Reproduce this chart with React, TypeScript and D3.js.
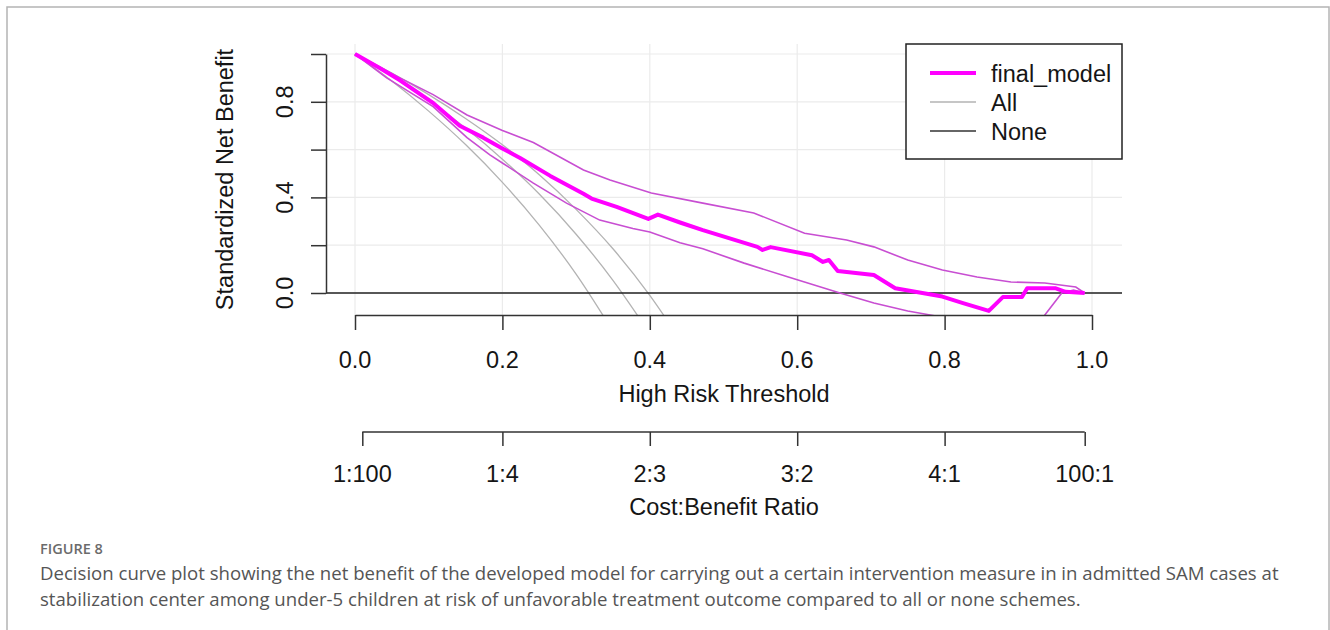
import * as d3 from 'd3';
import React, { useRef, useEffect } from 'react';

// decision curve values: [threshold, standardized net benefit]
const modelCurve: [number, number][] = [
  [0, 1.0], [0.034, 0.94], [0.061, 0.89], [0.106, 0.795], [0.142, 0.7], [0.174, 0.65],
  [0.2, 0.605], [0.224, 0.565], [0.265, 0.49], [0.31, 0.415], [0.321, 0.395], [0.355, 0.36],
  [0.398, 0.31], [0.411, 0.328], [0.441, 0.295], [0.472, 0.263], [0.546, 0.193], [0.553, 0.18],
  [0.564, 0.192], [0.62, 0.158], [0.635, 0.13], [0.643, 0.138], [0.655, 0.092], [0.704, 0.075],
  [0.733, 0.02], [0.797, -0.015], [0.825, -0.042], [0.86, -0.075], [0.879, -0.017], [0.905, -0.017],
  [0.912, 0.02], [0.95, 0.02], [0.964, 0.005], [0.99, 0.0],
];
const modelUpper: [number, number][] = [
  [0, 1.0], [0.061, 0.9], [0.106, 0.83], [0.152, 0.745], [0.2, 0.68], [0.242, 0.63],
  [0.31, 0.515], [0.346, 0.473], [0.402, 0.418], [0.472, 0.376], [0.541, 0.335], [0.61, 0.25],
  [0.667, 0.222], [0.704, 0.193], [0.75, 0.138], [0.797, 0.096], [0.844, 0.067], [0.89, 0.046],
  [0.936, 0.042], [0.978, 0.025], [0.99, 0.0],
];
const modelLower: [number, number][] = [
  [0, 1.0], [0.043, 0.9], [0.106, 0.78], [0.152, 0.65], [0.183, 0.578], [0.2, 0.544],
  [0.242, 0.46], [0.287, 0.376], [0.332, 0.305], [0.377, 0.27], [0.4, 0.255], [0.441, 0.21],
  [0.472, 0.185], [0.528, 0.125], [0.588, 0.067], [0.658, 0.0], [0.704, -0.042], [0.75, -0.075],
  [0.786, -0.095], [0.85, -0.2], [0.92, -0.16], [0.936, -0.092], [0.959, 0.0], [0.975, 0.012],
  [0.99, 0.0],
];
// "All" strategy curve and its two bounds
const allHigh: [number, number][] = [
  [0, 1.0], [0.05, 0.92], [0.1, 0.83], [0.15, 0.73], [0.2, 0.62], [0.25, 0.495],
  [0.3, 0.35], [0.35, 0.185], [0.4, -0.01], [0.44, -0.19],
];
const allMid: [number, number][] = [
  [0, 1.0], [0.05, 0.907], [0.1, 0.805], [0.15, 0.69], [0.2, 0.56], [0.25, 0.414],
  [0.3, 0.246], [0.35, 0.053], [0.4, -0.17],
];
const allLow: [number, number][] = [
  [0, 1.0], [0.05, 0.887], [0.1, 0.761], [0.15, 0.621], [0.2, 0.463], [0.25, 0.284],
  [0.3, 0.079], [0.35, -0.16],
];

const xTicks = [0, 0.2, 0.4, 0.6, 0.8, 1.0];
const yTicks = [0, 0.2, 0.4, 0.6, 0.8, 1.0];
const yLabelled = [0, 0.4, 0.8];
const costTicks = [1 / 101, 0.2, 0.4, 0.6, 0.8, 100 / 101];
const costLabels = ['1:100', '1:4', '2:3', '3:2', '4:1', '100:1'];
const legendNames = ['final_model', 'All', 'None'];

const captionTitle = 'FIGURE 8';
const captionLines = [
  'Decision curve plot showing the net benefit of the developed model for carrying out a certain intervention measure in in admitted SAM cases at',
  'stabilization center among under-5 children at risk of unfavorable treatment outcome compared to all or none schemes.',
];

function DecisionCurve({ width, height }: { width: number; height: number }) {
  const ref = useRef<SVGSVGElement>(null);

  useEffect(() => {
    draw();
  }, []);

  const draw = () => {
    const svg = d3.select(ref.current);
    svg.selectAll('*').remove();

    const font = "'Liberation Sans', Arial, sans-serif";
    const fs = 23.5;
    const ink = '#151515';
    const axisCol = '#333';

    // plot region (R device coords)
    const plot = { left: 326, right: 1122, top: 44, bottom: 315 };

    const x = d3.scaleLinear().domain([0, 1]).range([355, 1092]);
    const y = d3.scaleLinear().domain([0, 1]).range([293, 54]);

    // outer frame of the figure
    svg.append('rect')
      .attr('x', 7).attr('y', 7)
      .attr('width', 1322).attr('height', 700)
      .attr('fill', 'none')
      .attr('stroke', '#b4b4b4')
      .attr('stroke-width', 1.5);

    svg.append('defs').append('clipPath').attr('id', 'plotclip')
      .append('rect')
      .attr('x', plot.left).attr('y', plot.top)
      .attr('width', plot.right - plot.left).attr('height', plot.bottom - plot.top);

    // grid
    const grid = svg.append('g');
    grid.selectAll('.vg').data(xTicks).enter().append('line')
      .attr('x1', d => x(d)).attr('x2', d => x(d))
      .attr('y1', plot.top).attr('y2', plot.bottom)
      .attr('stroke', '#ebebeb').attr('stroke-width', 1.2);
    grid.selectAll('.hg').data(yTicks).enter().append('line')
      .attr('x1', plot.left).attr('x2', plot.right)
      .attr('y1', d => y(d)).attr('y2', d => y(d))
      .attr('stroke', '#ebebeb').attr('stroke-width', 1.2);

    const g = svg.append('g').attr('clip-path', 'url(#plotclip)');
    const line = d3.line<[number, number]>()
      .x(d => x(d[0]))
      .y(d => y(d[1]));
    const smooth = d3.line<[number, number]>()
      .curve(d3.curveMonotoneX)
      .x(d => x(d[0]))
      .y(d => y(d[1]));

    // All
    [allLow, allMid, allHigh].forEach(s => {
      g.append('path').datum(s)
        .attr('d', smooth)
        .attr('fill', 'none')
        .attr('stroke', '#b3b3b3')
        .attr('stroke-width', 1.3);
    });

    // None
    g.append('line')
      .attr('x1', plot.left).attr('x2', plot.right)
      .attr('y1', y(0)).attr('y2', y(0))
      .attr('stroke', '#222').attr('stroke-width', 1.4);

    // model confidence bounds
    [modelUpper, modelLower].forEach(s => {
      g.append('path').datum(s)
        .attr('d', line)
        .attr('fill', 'none')
        .attr('stroke', '#c84ed2')
        .attr('stroke-width', 1.6);
    });

    g.append('path').datum(modelCurve)
      .attr('d', line)
      .attr('fill', 'none')
      .attr('stroke', '#ff00ff')
      .attr('stroke-width', 4)
      .attr('stroke-linejoin', 'round');

    // y axis
    const yAxis = svg.append('g')
      .attr('transform', `translate(${plot.left},0)`)
      .call(d3.axisLeft(y).tickValues(yTicks).tickSize(15).tickSizeOuter(0).tickFormat(() => ''));
    yAxis.selectAll('path, line').attr('stroke', axisCol).attr('stroke-width', 1.5);
    yAxis.selectAll('text').remove();
    svg.selectAll('.ylab').data(yLabelled).enter().append('text')
      .attr('transform', d => `translate(293,${y(d)}) rotate(-90)`)
      .attr('text-anchor', 'middle')
      .style('font-family', font).style('font-size', fs + 'px').style('fill', ink)
      .text(d => d.toFixed(1));
    svg.append('text')
      .attr('transform', `translate(233,${(plot.top + plot.bottom) / 2}) rotate(-90)`)
      .attr('text-anchor', 'middle')
      .style('font-family', font).style('font-size', fs + 'px').style('fill', ink)
      .text('Standardized Net Benefit');

    // x axis (threshold)
    const xAxis = svg.append('g')
      .attr('transform', `translate(0,${plot.bottom})`)
      .call(d3.axisBottom(x).tickValues(xTicks).tickSize(15).tickSizeOuter(0).tickFormat(() => ''));
    xAxis.selectAll('path, line').attr('stroke', axisCol).attr('stroke-width', 1.5);
    xAxis.selectAll('text').remove();
    svg.selectAll('.xlab').data(xTicks).enter().append('text')
      .attr('x', d => x(d)).attr('y', 368)
      .attr('text-anchor', 'middle')
      .style('font-family', font).style('font-size', fs + 'px').style('fill', ink)
      .text(d => d.toFixed(1));
    svg.append('text')
      .attr('x', (plot.left + plot.right) / 2).attr('y', 402)
      .attr('text-anchor', 'middle')
      .style('font-family', font).style('font-size', fs + 'px').style('fill', ink)
      .text('High Risk Threshold');

    // cost:benefit axis
    const cAxis = svg.append('g')
      .attr('transform', 'translate(0,432)')
      .call(d3.axisBottom(x).tickValues(costTicks).tickSize(14).tickFormat(() => ''));
    cAxis.select('.domain').remove();
    cAxis.selectAll('line').attr('stroke', axisCol).attr('stroke-width', 1.5);
    cAxis.selectAll('text').remove();
    cAxis.append('line')
      .attr('x1', x(costTicks[0])).attr('x2', x(costTicks[costTicks.length - 1]))
      .attr('y1', 0).attr('y2', 0)
      .attr('stroke', axisCol).attr('stroke-width', 1.5);
    svg.selectAll('.clab').data(costTicks).enter().append('text')
      .attr('x', d => x(d)).attr('y', 482)
      .attr('text-anchor', 'middle')
      .style('font-family', font).style('font-size', fs + 'px').style('fill', ink)
      .text((d, i) => costLabels[i]);
    svg.append('text')
      .attr('x', (plot.left + plot.right) / 2).attr('y', 515)
      .attr('text-anchor', 'middle')
      .style('font-family', font).style('font-size', fs + 'px').style('fill', ink)
      .text('Cost:Benefit Ratio');

    // legend
    const lg = svg.append('g');
    lg.append('rect')
      .attr('x', 906).attr('y', plot.top)
      .attr('width', plot.right - 906).attr('height', 115)
      .attr('fill', 'white').attr('stroke', '#222').attr('stroke-width', 1.5);
    const legendStyle = [
      { col: '#ff00ff', w: 4 },
      { col: '#b3b3b3', w: 1.3 },
      { col: '#333', w: 1.4 },
    ];
    legendNames.forEach((name, i) => {
      const ly = 73 + i * 29;
      lg.append('line')
        .attr('x1', 930).attr('x2', 976)
        .attr('y1', ly).attr('y2', ly)
        .attr('stroke', legendStyle[i].col).attr('stroke-width', legendStyle[i].w);
      lg.append('text')
        .attr('x', 991).attr('y', ly + 8.5)
        .style('font-family', font).style('font-size', fs + 'px').style('fill', ink)
        .text(name);
    });

    // caption
    const capFont = "'Open Sans', 'Noto Sans', sans-serif";
    svg.append('text')
      .attr('x', 40).attr('y', 554)
      .style('font-family', capFont).style('font-size', '14.5px').style('font-weight', 600)
      .style('fill', '#6b6b6b')
      .text(captionTitle);
    captionLines.forEach((t, i) => {
      svg.append('text')
        .attr('x', 40).attr('y', 580 + i * 26)
        .style('font-family', capFont).style('font-size', '18.6px')
        .style('fill', '#555')
        .text(t);
    });
  };

  return (
    <svg ref={ref} width={width} height={height}
      style={{ position: 'absolute', left: 0, top: 0, background: 'white' }} />
  );
}

export default function App() {
  return <DecisionCurve width={1330} height={630} />;
}
